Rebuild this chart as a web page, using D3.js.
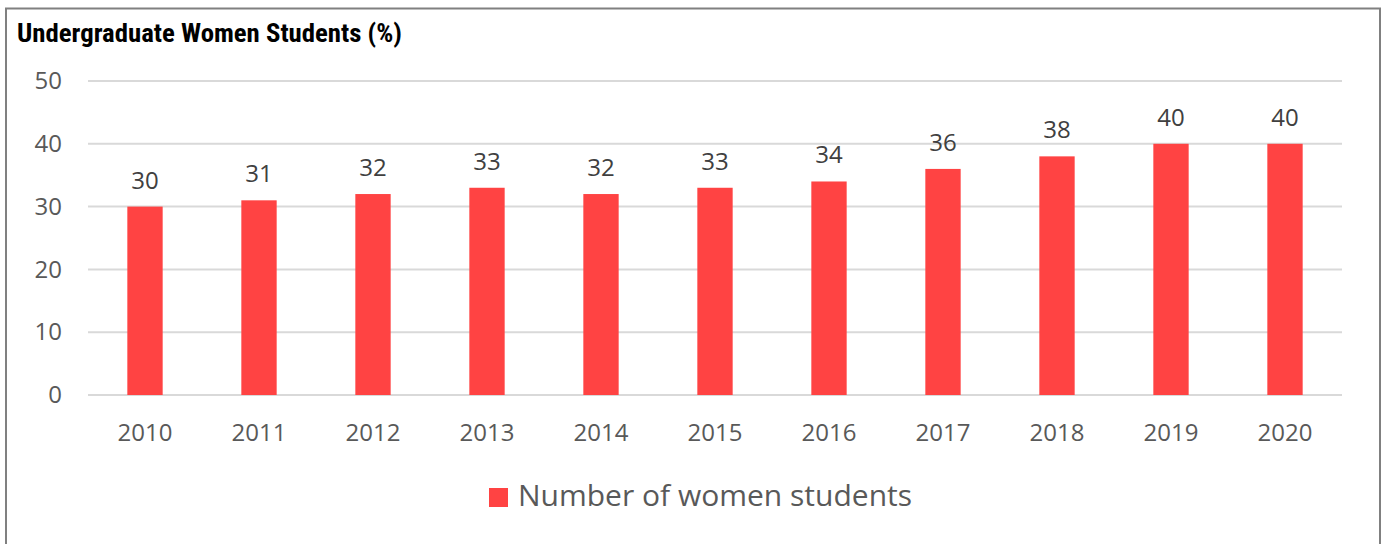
<!DOCTYPE html>
<html>
<head>
<meta charset="utf-8">
<script src="https://cdn.jsdelivr.net/npm/d3@7"></script>
<style>
  body { margin: 0; background: #fff; }
  svg { display: block; }
</style>
</head>
<body>
<svg id="chart"></svg>
<script>
// chart data
var years = ['2010', '2011', '2012', '2013', '2014', '2015', '2016', '2017', '2018', '2019', '2020'];
var womenPct = [30, 31, 32, 33, 32, 33, 34, 36, 38, 40, 40];
var yTicks = [0, 10, 20, 30, 40, 50];
var seriesName = 'Number of women students';
var title = 'Undergraduate Women Students (%)';

var width = 1382, height = 544;
var margin = {left: 88, right: 40, top: 81, bottom: 149};
var barColor = '#ff4343';
var textColor = '#595959';
var font = '"Open Sans", sans-serif';

var svg = d3.select('svg#chart')
    .attr('width', width)
    .attr('height', height);

// outer frame
svg.append('rect')
    .attr('x', 6)
    .attr('y', 8.5)
    .attr('width', 1374)
    .attr('height', height + 20)
    .attr('fill', '#fff')
    .attr('stroke', '#808080')
    .attr('stroke-width', 2);

svg.append('text')
    .attr('x', 17)
    .attr('y', 42)
    .attr('font-family', '"Liberation Sans Narrow", "Roboto Condensed", sans-serif')
    .attr('font-weight', 'bold')
    .attr('font-size', 25)
    .attr('textLength', 385)
    .attr('lengthAdjust', 'spacingAndGlyphs')
    .attr('fill', '#000')
    .text(title);

var x = d3.scaleBand()
    .domain(years)
    .range([margin.left, width - margin.right])
    .paddingInner(0.69)
    .paddingOuter(0.345);

var y = d3.scaleLinear()
    .domain([0, 50])
    .range([height - margin.bottom, margin.top]);

// gridlines
svg.append('g')
    .selectAll('line')
    .data(yTicks)
    .join('line')
    .attr('x1', margin.left)
    .attr('x2', width - margin.right)
    .attr('y1', d => y(d))
    .attr('y2', d => y(d))
    .attr('stroke', '#d9d9d9')
    .attr('stroke-width', 2);

var yAxis = svg.append('g')
    .attr('transform', 'translate(62,0)')
    .call(d3.axisLeft(y).tickValues(yTicks).tickSize(0).tickPadding(0));
yAxis.select('.domain').remove();
yAxis.selectAll('text')
    .attr('font-family', font)
    .attr('font-size', 24)
    .attr('fill', textColor);

// bars
svg.append('g')
    .selectAll('rect')
    .data(womenPct)
    .join('rect')
    .attr('x', (d, i) => x(years[i]))
    .attr('width', x.bandwidth())
    .attr('y', d => y(d))
    .attr('height', d => y(0) - y(d))
    .attr('fill', barColor);

// value labels
svg.append('g')
    .selectAll('text')
    .data(womenPct)
    .join('text')
    .attr('x', (d, i) => x(years[i]) + x.bandwidth() / 2)
    .attr('y', d => y(d) - 18)
    .attr('text-anchor', 'middle')
    .attr('font-family', font)
    .attr('font-size', 24)
    .attr('fill', '#404040')
    .text(d => d);

var xAxis = svg.append('g')
    .attr('transform', 'translate(0,' + y(0) + ')')
    .call(d3.axisBottom(x).tickSize(0).tickPadding(29));
xAxis.select('.domain').remove();
xAxis.selectAll('text')
    .attr('font-family', font)
    .attr('font-size', 24)
    .attr('fill', textColor);

// legend
var legend = svg.append('g').attr('transform', 'translate(489,488)');
legend.append('rect')
    .attr('width', 19)
    .attr('height', 19)
    .attr('fill', barColor);
legend.append('text')
    .attr('x', 29)
    .attr('y', 18)
    .attr('font-family', font)
    .attr('font-size', 30)
    .attr('fill', textColor)
    .text(seriesName);
</script>
</body>
</html>
